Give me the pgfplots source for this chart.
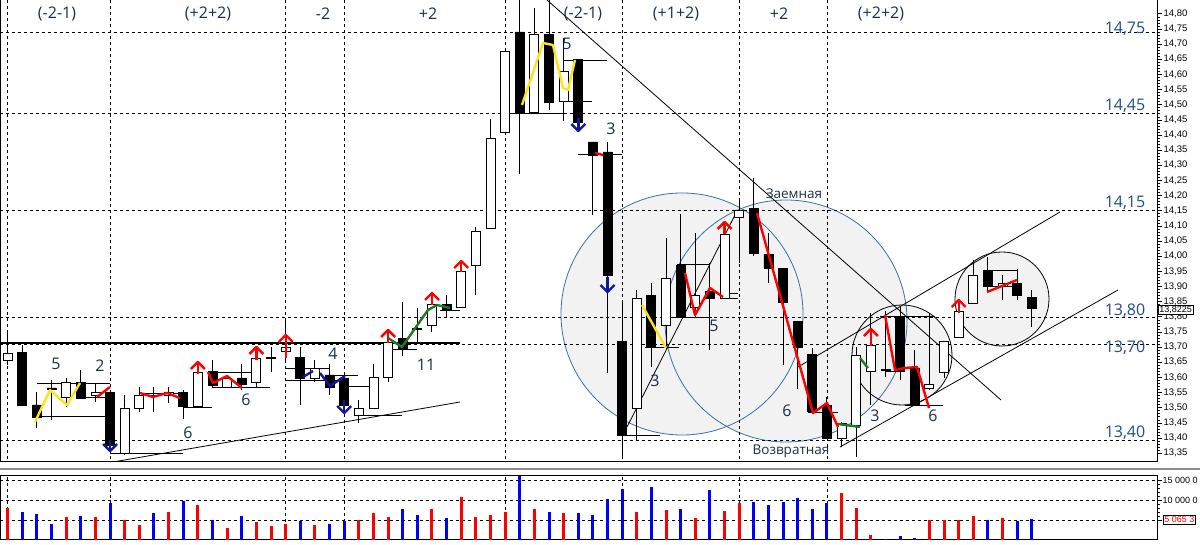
\documentclass[border=0pt]{standalone}
\usepackage{fontspec}
\setmainfont{Open Sans}
\newfontfamily\tickfont{Liberation Sans}
\usepackage{pgfplots}
\pgfplotsset{compat=1.18}
\usepackage{pgfplotstable}

\definecolor{lblue}{HTML}{1F4E8C}
\definecolor{txt}{HTML}{1C2E4A}
\definecolor{circblue}{HTML}{3B6EA8}
\definecolor{circfill}{HTML}{F2F2F2}
\definecolor{arrred}{HTML}{FF0000}
\definecolor{arrblue}{HTML}{1414A0}
\definecolor{ylw}{HTML}{FFE31A}
\definecolor{grn}{HTML}{1E7A1E}
\definecolor{volred}{HTML}{FF0000}
\definecolor{volblue}{HTML}{0000FF}

\pgfplotstableread{
i o h l c
0 13.657 13.747 13.640 13.680
1 13.682 13.707 13.505 13.509
2 13.509 13.552 13.433 13.469
3 13.565 13.591 13.459 13.560
4 13.535 13.598 13.502 13.582
5 13.582 13.624 13.528 13.532
6 13.539 13.582 13.519 13.549
7 13.549 13.558 13.350 13.377
8 13.350 13.542 13.343 13.499
9 13.499 13.568 13.486 13.542
10 13.540 13.568 13.486 13.539
11 13.539 13.568 13.516 13.549
12 13.549 13.558 13.463 13.503
13 13.505 13.615 13.503 13.615
14 13.618 13.657 13.568 13.575
15 13.568 13.608 13.568 13.598
16 13.598 13.644 13.558 13.578
17 13.582 13.697 13.568 13.661
18 13.661 13.700 13.617 13.667
19 13.684 13.796 13.654 13.700
20 13.667 13.700 13.509 13.598
21 13.595 13.657 13.585 13.628
22 13.608 13.644 13.541 13.568
23 13.598 13.608 13.486 13.509
24 13.476 13.525 13.450 13.499
25 13.499 13.644 13.499 13.601
26 13.601 13.714 13.585 13.714
27 13.730 13.849 13.670 13.694
28 13.760 13.829 13.717 13.757
29 13.770 13.840 13.750 13.840
30 13.842 13.872 13.796 13.822
31 13.832 13.951 13.832 13.951
32 13.968 14.096 13.872 14.080
33 14.090 14.453 14.090 14.387
34 14.407 14.680 14.407 14.677
35 14.740 14.846 14.271 14.476
36 14.476 14.820 14.476 14.733
37 14.733 14.846 14.482 14.509
38 14.512 14.720 14.446 14.611
39 14.648 14.648 14.443 14.443
40 14.377 14.377 14.136 14.334
41 14.344 14.377 13.615 13.935
42 13.720 13.849 13.330 13.410
43 13.499 13.888 13.393 13.862
44 13.869 13.911 13.634 13.700
45 13.770 14.060 13.690 13.928
46 13.970 14.139 13.800 13.800
47 13.832 14.077 13.796 13.869
48 13.882 13.978 13.690 13.862
49 13.862 14.073 13.862 14.073
50 14.129 14.192 13.978 14.152
51 14.159 14.258 14.000 14.010
52 14.007 14.077 13.911 13.961
53 13.961 13.961 13.641 13.846
54 13.783 13.783 13.562 13.700
55 13.677 13.697 13.486 13.486
56 13.506 13.535 13.400 13.400
57 13.400 13.453 13.370 13.449
58 13.443 13.700 13.337 13.671
59 13.621 13.812 13.509 13.707
60 13.625 13.820 13.600 13.622
61 13.800 13.832 13.591 13.621
62 13.631 13.690 13.509 13.509
63 13.565 13.812 13.558 13.578
64 13.615 13.720 13.598 13.720
65 13.733 13.855 13.733 13.816
66 13.845 13.987 13.845 13.938
67 13.951 13.997 13.882 13.905
68 13.901 13.938 13.855 13.911
69 13.911 13.958 13.855 13.872
70 13.865 13.888 13.766 13.826
}\candles

\pgfplotstableread{
i v
0 8080
4 5830
6 5830
8 4910
9 3750
11 7000
13 8660
15 3000
17 4410
18 3500
19 3910
21 3750
24 4910
25 6830
26 5830
29 7750
31 10830
32 5830
33 6160
34 7000
36 7660
38 6660
43 7080
45 7500
47 5580
49 7330
50 9330
57 11830
58 8000
59 1330
63 4910
64 4910
65 5080
66 6080
68 5580
}\volred

\pgfplotstableread{
i v
1 7080
2 6410
3 4080
5 6080
7 9160
10 6830
12 9660
14 5080
16 6080
20 4660
22 4000
23 4660
27 7750
28 6160
30 5580
35 15900
37 7080
39 6830
40 6330
41 10330
42 12830
44 13160
46 7750
48 12410
51 9580
52 8750
53 9410
54 10580
55 7750
56 9330
60 250
61 920
62 500
67 5080
69 4660
70 5160
}\volblue

\tikzset{
  dsh/.style={black, line width=0.9pt, dash pattern=on 3pt off 3pt},
  thin/.style={black, line width=0.8pt},
  zz/.style={line width=2.4pt, line join=round},
  num/.style={font=\fontsize{16}{16}\selectfont, text=txt},
  lvl/.style={font=\fontsize{16}{16}\selectfont, text=lblue},
}

\begin{document}
\begin{tikzpicture}
\path[use as bounding box] (0pt,0pt) rectangle (1200pt,545pt);
\pgfplotsset{
  pix/.style={at={(0pt,83pt)}, anchor=south west, scale only axis,
    width=1157pt, height=462pt, xmin=0, xmax=1157, ymin=0, ymax=462,
    y dir=reverse, hide axis},
  price/.style={at={(0pt,83pt)}, anchor=south west, scale only axis,
    width=1157pt, height=462pt, xmin=-0.526, xmax=78.56,
    ymin=13.3208, ymax=14.8455},
}
% ---------- background annotations (pixel axis)
\begin{axis}[pix]
\fill[circfill] (682,314) circle[radius=121pt];
\fill[circfill] (786,321) circle[radius=121pt];
\fill[circfill] (902,355) circle[radius=50pt];
\fill[circfill] (1002,299) circle[radius=47pt];
\draw[circblue, line width=0.8pt] (682,314) circle[radius=121pt];
\draw[circblue, line width=0.8pt] (786,321) circle[radius=121pt];
\draw[black, line width=0.8pt] (902,355) circle[radius=50pt];
\draw[black, line width=0.8pt] (1002,299) circle[radius=47pt];
% horizontal dashed levels
\addplot[dsh] coordinates {(0,32) (1157,32)};
\addplot[dsh] coordinates {(0,113) (1157,113)};
\addplot[dsh] coordinates {(0,210) (1157,210)};
\addplot[dsh] coordinates {(0,317) (1157,317)};
\addplot[dsh] coordinates {(0,344) (1157,344)};
\addplot[dsh] coordinates {(0,440) (1157,440)};
% vertical dashed
\addplot[dsh] coordinates {(7.7,0) (7.7,462)};
\addplot[dsh] coordinates {(110.1,0) (110.1,462)};
\addplot[dsh] coordinates {(285.7,0) (285.7,462)};
\addplot[dsh] coordinates {(344.2,0) (344.2,462)};
\addplot[dsh] coordinates {(505.1,0) (505.1,462)};
\addplot[dsh] coordinates {(622.2,0) (622.2,462)};
\addplot[dsh] coordinates {(739.2,0) (739.2,462)};
\addplot[dsh] coordinates {(827.0,0) (827.0,462)};
% trend lines
\addplot[thin] coordinates {(547,0) (1001,400)};
\addplot[thin] coordinates {(798,367) (1060,212)};
\addplot[thin] coordinates {(840,447) (1118,290)};
\addplot[thin] coordinates {(627,427) (735,215)};
\addplot[thin] coordinates {(113,462) (460,402)};
% short level lines
\addplot[black, line width=1.2pt] coordinates {(0,343) (460,343)};
\addplot[thin] coordinates {(37,383) (110,383)};
\addplot[thin] coordinates {(37,416) (110,416)};
\addplot[thin] coordinates {(82,397) (110,397)};
\addplot[thin] coordinates {(110,453) (183,453)};
\addplot[thin] coordinates {(183,407) (212,407)};
\addplot[thin] coordinates {(140,393) (183,393)};
\addplot[thin] coordinates {(212,372) (252,372)};
\addplot[thin] coordinates {(212,387) (270,387)};
\addplot[thin] coordinates {(285,368) (329,368)};
\addplot[thin] coordinates {(285,380) (349,380)};
\addplot[thin] coordinates {(329,375) (358,375)};
\addplot[thin] coordinates {(349,386) (370,386)};
\addplot[thin] coordinates {(358,415) (402,415)};
\addplot[thin] coordinates {(393,349) (417,349)};
\addplot[thin] coordinates {(440,310) (460,310)};
\addplot[thin] coordinates {(513,113) (563,113)};
\addplot[thin] coordinates {(560,101) (592,101)};
\addplot[thin] coordinates {(563,60) (607,60)};
\addplot[thin] coordinates {(578,154) (622,154)};
\addplot[thin] coordinates {(622,435) (660,435)};
\addplot[thin] coordinates {(645,347) (679,347)};
\addplot[thin] coordinates {(677,264) (710,264)};
\addplot[thin] coordinates {(670,317) (712,317)};
\addplot[thin] coordinates {(720,293) (738,293)};
\addplot[thin] coordinates {(720,298) (738,298)};
\addplot[thin] coordinates {(808,412) (838,412)};
\addplot[thin] coordinates {(880,316) (935,316)};
\addplot[thin] coordinates {(885,371) (905,371)};
\addplot[thin] coordinates {(905,405) (943,405)};
\addplot[thin] coordinates {(983,270) (1017,270)};
\addplot[thin] coordinates {(983,286) (1017,286)};
\end{axis}

% ---------- price axis with wicks
\begin{axis}[price,
  axis line style={black, line width=1pt},
  xtick=\empty,
  ytick={13.35,13.4,13.45,13.5,13.55,13.6,13.65,13.7,13.75,13.8,13.85,13.9,13.95,14,14.05,14.1,14.15,14.2,14.25,14.3,14.35,14.4,14.45,14.5,14.55,14.6,14.65,14.7,14.75,14.8},
  ytick pos=right, yticklabel pos=right,
  tick align=outside, major tick length=5pt, minor tick length=3pt,
  minor y tick num=4,
  tick style={black, line width=0.6pt},
  /pgf/number format/assume math mode=true,
  yticklabel style={font=\tickfont\fontsize{9.5}{10}\selectfont, xshift=-2pt,
    /pgf/number format/.cd, fixed, fixed zerofill, precision=2, use comma},
]
\addplot[draw=none, mark=none, forget plot,
  error bars/.cd, y dir=both, y explicit, error mark=none,
  error bar style={draw=black, solid, line width=1pt}]
  table[x=i, y expr={(\thisrow{h}+\thisrow{l})/2}, y error expr={(\thisrow{h}-\thisrow{l})/2}] \candles;
\end{axis}

% ---------- candle bodies
\begin{axis}[price, hide axis, ybar stacked, bar width=9pt]
\addplot[draw=none, fill=none] table[x=i, y expr={min(\thisrow{o},\thisrow{c})}] \candles;
\addplot[draw=black, fill=white, line width=0.9pt] table[x=i, y expr={max(\thisrow{c}-\thisrow{o},0)}] \candles;
\addplot[draw=black, fill=black, line width=0.9pt] table[x=i, y expr={max(\thisrow{o}-\thisrow{c},0)}] \candles;
\end{axis}

% ---------- foreground annotations
\begin{axis}[pix, clip=false]
% zigzags
\addplot[zz, ylw] coordinates {(35,422) (50,390) (67,405) (80,383)};
\addplot[zz, arrred] coordinates {(97,397) (110,387)};
\addplot[zz, arrred] coordinates {(140,393) (153,397) (167,393) (180,398)};
\addplot[zz, arrred] coordinates {(208,372) (213,383) (227,376) (242,388)};
\addplot[zz, arrblue] coordinates {(303,377) (313,371)};
\addplot[zz, arrblue] coordinates {(320,373) (330,386) (345,376)};
\addplot[zz, grn] coordinates {(388,338) (402,347) (428,310) (437,305) (450,308)};
\addplot[zz, ylw] coordinates {(522,105) (543,43) (553,45) (563,88) (568,90) (575,60)};
\addplot[zz, arrred] coordinates {(595,153) (603,155)};
\addplot[zz, ylw] coordinates {(642,305) (666,348)};
\addplot[zz, arrred] coordinates {(685,273) (695,315) (710,288) (723,297)};
\addplot[zz, arrred] coordinates {(757,213) (813,413) (827,403) (838,427)};
\addplot[zz, grn] coordinates {(838,424) (860,427)};
\addplot[zz, grn] coordinates {(860,358) (868,368)};
\addplot[zz, arrred] coordinates {(885,315) (895,370) (905,368) (917,367) (929,408)};
\addplot[zz, arrred] coordinates {(987,292) (1017,280)};
% red up arrows
\addplot[zz, arrred] coordinates {(190.9,369) (197.9,362) (204.9,369)};
\addplot[zz, arrred] coordinates {(197.9,362) (197.9,374)};
\addplot[zz, arrred] coordinates {(249.4,354) (256.4,347) (263.4,354)};
\addplot[zz, arrred] coordinates {(256.4,347) (256.4,360)};
\addplot[zz, arrred] coordinates {(278.7,342) (285.7,335) (292.7,342)};
\addplot[zz, arrred] coordinates {(285.7,335) (285.7,358)};
\addplot[zz, arrred] coordinates {(381.1,337) (388.1,330) (395.1,337)};
\addplot[zz, arrred] coordinates {(388.1,330) (388.1,343)};
\addplot[zz, arrred] coordinates {(425,300) (432,293) (439,300)};
\addplot[zz, arrred] coordinates {(432,293) (432,305)};
\addplot[zz, arrred] coordinates {(454.2,268) (461.2,261) (468.2,268)};
\addplot[zz, arrred] coordinates {(461.2,261) (461.2,272)};
\addplot[zz, arrred] coordinates {(717.6,229) (724.6,222) (731.6,229)};
\addplot[zz, arrred] coordinates {(724.6,222) (724.6,234)};
\addplot[zz, arrred] coordinates {(863.9,336) (870.9,329) (877.9,336)};
\addplot[zz, arrred] coordinates {(870.9,329) (870.9,346)};
\addplot[zz, arrred] coordinates {(951.7,307) (958.7,300) (965.7,307)};
\addplot[zz, arrred] coordinates {(958.7,300) (958.7,313)};
% blue down arrows
\addplot[zz, arrblue] coordinates {(103.1,444) (110.1,451) (117.1,444)};
\addplot[zz, arrblue] coordinates {(110.1,440) (110.1,451)};
\addplot[zz, arrblue] coordinates {(337.2,406) (344.2,413) (351.2,406)};
\addplot[zz, arrblue] coordinates {(344.2,400) (344.2,413)};
\addplot[zz, arrblue] coordinates {(571.3,124) (578.3,131) (585.3,124)};
\addplot[zz, arrblue] coordinates {(578.3,118) (578.3,131)};
\addplot[zz, arrblue] coordinates {(600.5,285) (607.5,292) (614.5,285)};
\addplot[zz, arrblue] coordinates {(607.5,277) (607.5,292)};
% top labels
\node[num] at (57,14) {(-2-1)};
\node[num] at (208,14) {(+2+2)};
\node[num] at (323,14) {-2};
\node[num] at (428,14) {+2};
\node[num] at (583,14) {(-2-1)};
\node[num] at (676,14) {(+1+2)};
\node[num] at (779,14) {+2};
\node[num] at (881,14) {(+2+2)};
% numbers
\node[num] at (56,364) {5};
\node[num] at (100,366) {2};
\node[num] at (188,433) {6};
\node[num] at (246,400) {6};
\node[num] at (333,354) {4};
\node[num] at (426,365) {11};
\node[num] at (567,44) {5};
\node[num] at (611,129) {3};
\node[num] at (655,381) {3};
\node[num] at (714,326) {5};
\node[num] at (787,411) {6};
\node[num] at (875,416) {3};
\node[num] at (933,416) {6};
\node[font=\fontsize{13.5}{14}\selectfont, text=txt] at (794,194) {Заемная};
\node[font=\fontsize{13.5}{14}\selectfont, text=txt] at (791,451) {Возвратная};
% level labels
\node[lvl] at (1125,29) {14,75};
\node[lvl] at (1125,106) {14,45};
\node[lvl] at (1125,203) {14,15};
\node[lvl] at (1125,311) {13,80};
\node[lvl] at (1125,348) {13,70};
\node[lvl] at (1125,433) {13,40};
% current price box
\node[draw=black, fill=white, line width=0.6pt, inner sep=1pt, anchor=west,
  font=\tickfont\fontsize{9}{10}\selectfont] at (1158,310) {13,8225};
\end{axis}

% ---------- separator
\draw[black!45, line width=1.6pt] (0pt,76pt) -- (1200pt,76pt);

% ---------- volume panel
\begin{axis}[at={(0pt,5pt)}, anchor=south west, scale only axis,
  width=1157pt, height=64pt, xmin=-0.526, xmax=78.56, ymin=0, ymax=16000,
  axis line style={black, line width=1pt},
  xtick=\empty,
  ytick={5000,10000,15000}, yticklabels={{},{10 000 0},{15 000 0}},
  scaled y ticks=false,
  ytick pos=right, yticklabel pos=right,
  tick align=outside, major tick length=5pt, minor tick length=3pt,
  minor y tick num=4, tick style={black, line width=0.6pt},
  /pgf/number format/assume math mode=true,
  yticklabel style={font=\tickfont\fontsize{9}{10}\selectfont, xshift=-3pt},
  clip=false]
\addplot[dsh] coordinates {(-0.526,5000) (78.56,5000)};
\addplot[dsh] coordinates {(-0.526,10000) (78.56,10000)};
\addplot[dsh] coordinates {(-0.526,15000) (78.56,15000)};
\addplot[dsh] coordinates {(0,0) (0,16000)};
\addplot[dsh] coordinates {(7,0) (7,16000)};
\addplot[dsh] coordinates {(19,0) (19,16000)};
\addplot[dsh] coordinates {(23,0) (23,16000)};
\addplot[dsh] coordinates {(34,0) (34,16000)};
\addplot[dsh] coordinates {(42,0) (42,16000)};
\addplot[dsh] coordinates {(50,0) (50,16000)};
\addplot[dsh] coordinates {(56,0) (56,16000)};
\addplot[ycomb, volred, line width=3pt] table[x=i, y=v] \volred;
\addplot[ycomb, volblue, line width=3pt] table[x=i, y=v] \volblue;
\node[draw=black, fill=white, line width=0.6pt, inner sep=1pt, anchor=west,
  text=red, font=\tickfont\fontsize{9}{10}\selectfont] at (78.97,5065) {5 065 3};
\end{axis}
\end{tikzpicture}
\end{document}
